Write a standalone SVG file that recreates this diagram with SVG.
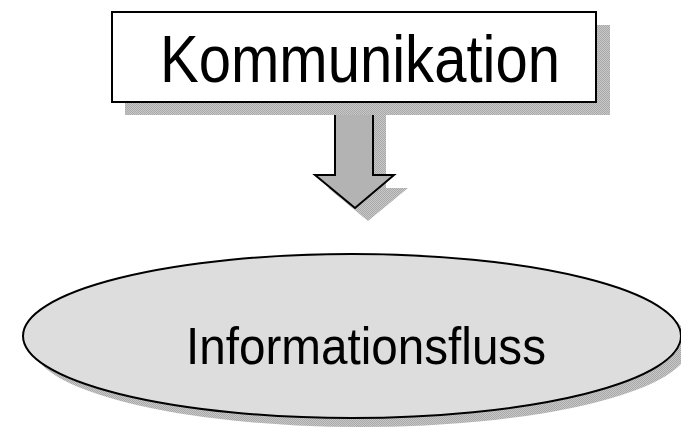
<svg xmlns="http://www.w3.org/2000/svg" width="681" height="428" viewBox="0 0 681 428">
  <defs>
    <pattern id="dither" width="2" height="2" patternUnits="userSpaceOnUse">
      <rect width="2" height="2" fill="#c8c8c8"/>
      <rect width="1" height="1" fill="#a8a8a8"/>
      <rect x="1" y="1" width="1" height="1" fill="#a8a8a8"/>
    </pattern>
  </defs>
  <style>
    .shadow { fill: url(#dither); stroke: none; }
    .outline { stroke: #000; stroke-width: 2; }
    .label { font-family: "Liberation Sans", Arial, sans-serif; fill: #000; text-anchor: middle; }
  </style>
  <rect width="681" height="428" fill="#fff"/>
  <g id="node-informationsfluss">
    <ellipse class="shadow" cx="361" cy="345" rx="329" ry="82"/>
    <ellipse class="outline" cx="352" cy="336" rx="329" ry="82" fill="#dddddd"/>
    <text class="label" x="366" y="364" font-size="52" textLength="360" lengthAdjust="spacingAndGlyphs">Informationsfluss</text>
  </g>
  <g id="connectors">
    <polygon class="shadow" points="348,102 386,102 386,188 408,188 368,221 328,188 348,188"/>
    <polygon class="outline" points="335,90 373,90 373,175 394,175 355,208 315,175 335,175" fill="#b3b3b3" stroke-linejoin="miter"/>
  </g>
  <g id="node-kommunikation">
    <rect class="shadow" x="125" y="25" width="485" height="90"/>
    <rect class="outline" x="112" y="12" width="484" height="90" fill="#fff"/>
    <text class="label" x="360" y="82" font-size="66" textLength="400" lengthAdjust="spacingAndGlyphs">Kommunikation</text>
  </g>
</svg>
